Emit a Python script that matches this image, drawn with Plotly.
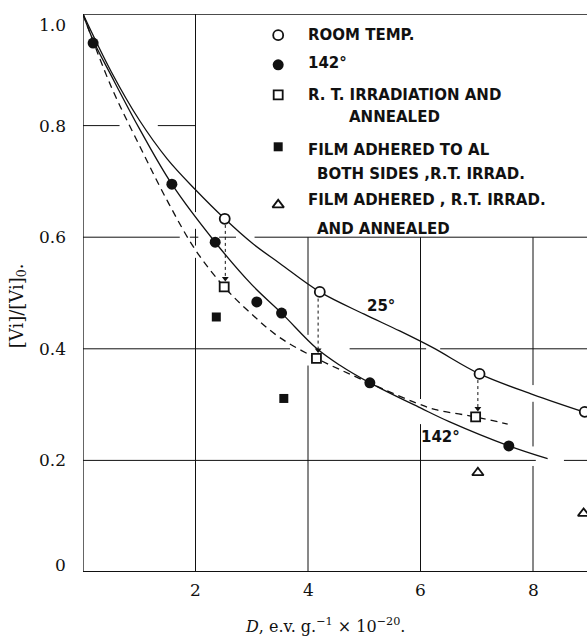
import plotly.graph_objects as go

# ---------------- data ----------------
room_x = [2.52, 4.21, 7.05, 8.92]
room_y = [0.633, 0.502, 0.355, 0.287]

t142_x = [0.18, 1.58, 2.35, 3.09, 3.53, 5.10, 7.57]
t142_y = [0.948, 0.695, 0.591, 0.484, 0.464, 0.339, 0.226]

annealed_x = [2.51, 4.15, 6.98]
annealed_y = [0.511, 0.383, 0.278]

film_al_x = [2.37, 3.57]
film_al_y = [0.457, 0.311]

film_ann_x = [7.02, 8.90]
film_ann_y = [0.178, 0.105]

curve25_x = [0, 0.5, 1.0, 1.5, 2.0, 2.52, 3.0, 3.5, 4.21, 5.0, 5.63, 6.22, 7.05, 8.0, 8.96]
curve25_y = [1.0, 0.897, 0.81, 0.74, 0.685, 0.633, 0.59, 0.553, 0.502, 0.462, 0.432, 0.402, 0.355, 0.318, 0.285]

curve142_x = [0, 0.18, 0.5, 1.0, 1.58, 2.35, 3.0, 3.53, 4.15, 4.56, 5.10, 6.0, 6.52, 7.57, 8.26]
curve142_y = [1.0, 0.953, 0.89, 0.795, 0.695, 0.591, 0.515, 0.464, 0.401, 0.371, 0.339, 0.294, 0.269, 0.226, 0.203]

dashed_x = [0, 0.5, 1.0, 1.5, 2.0, 2.51, 3.0, 3.5, 4.15, 4.8, 5.4, 5.92, 6.27, 6.98, 7.55]
dashed_y = [1.0, 0.87, 0.765, 0.665, 0.577, 0.511, 0.462, 0.42, 0.383, 0.352, 0.325, 0.303, 0.291, 0.278, 0.265]

arrow_x = [2.53, 4.18, 7.02]
arrow_top = [0.622, 0.49, 0.344]
arrow_bottom = [0.526, 0.398, 0.293]

y_tick_vals = [0, 0.2, 0.4, 0.6, 0.8, 1.0]
y_tick_text = ["0", "0.2", "0.4", "0.6", "0.8", "1.0"]
x_tick_vals = [2, 4, 6, 8]
x_tick_text = ["2", "4", "6", "8"]

legend_lines = ["ROOM TEMP.", "142°", "R. T. IRRADIATION AND", "ANNEALED",
                "FILM ADHERED TO AL", "BOTH SIDES ,R.T. IRRAD.",
                "FILM ADHERED , R.T. IRRAD.", "AND ANNEALED"]
curve_labels = ["25°", "142°"]

x_title = "<i>D</i>, e.v. g.<sup>−1</sup> × 10<sup>−20</sup>."
y_title = "[Vi]/[Vi]<sub>0</sub>."

# ---------------- figure ----------------
XMAX = 8.96
INK = "#111111"
fig = go.Figure()


def seg(x0, y0, x1, y1, w=1.0):
    fig.add_shape(type="line", xref="x", yref="y", x0=x0, y0=y0, x1=x1, y1=y1,
                  line=dict(color=INK, width=w), layer="below")


# frame
seg(0, 0, 0, 1.0, 1.3)
seg(0, 0, XMAX, 0, 1.8)
seg(0, 1.0, XMAX, 1.0, 1.3)
# grid (broken where curves cross, hidden under legend)
for a, b in [(0, 0.563), (0.585, 0.615), (0.645, 1.0)]:
    seg(2, a, 2, b)
for a, b in [(0, 0.37), (0.425, 0.6)]:
    seg(4, a, 4, b)
for a, b in [(0, 0.265), (0.31, 0.6)]:
    seg(6, a, 6, b)
for a, b in [(0, 0.19), (0.225, 0.305), (0.335, 0.6)]:
    seg(8, a, 8, b)
for a, b in [(0, 8.05), (8.55, XMAX)]:
    seg(a, 0.2, b, 0.2)
for a, b in [(0, 3.68), (4.74, 6.1), (6.35, XMAX)]:
    seg(a, 0.4, b, 0.4)
for a, b in [(0, 1.72), (1.9, 2.05), (2.42, 2.72), (3.05, XMAX)]:
    seg(a, 0.6, b, 0.6)
for a, b in [(0, 0.65), (1.33, 2.0)]:
    seg(a, 0.8, b, 0.8)

# curves
fig.add_trace(go.Scatter(x=dashed_x, y=dashed_y, mode="lines",
                         line=dict(color=INK, width=1.3, dash="7px,5px", shape="spline", smoothing=1)))
fig.add_trace(go.Scatter(x=curve25_x, y=curve25_y, mode="lines",
                         line=dict(color=INK, width=1.3, shape="spline", smoothing=1)))
fig.add_trace(go.Scatter(x=curve142_x, y=curve142_y, mode="lines",
                         line=dict(color=INK, width=1.3, shape="spline", smoothing=1)))

# vertical dashed arrows
for ax_, t, b in zip(arrow_x, arrow_top, arrow_bottom):
    fig.add_trace(go.Scatter(x=[ax_, ax_], y=[t, b], mode="lines",
                             line=dict(color=INK, width=1, dash="3px,3px")))
fig.add_trace(go.Scatter(x=arrow_x, y=arrow_bottom, mode="markers",
                         marker=dict(symbol="triangle-down", size=6, color=INK)))

# markers
OPEN = dict(color="white", line=dict(color=INK, width=1.8))
fig.add_trace(go.Scatter(x=room_x, y=room_y, mode="markers", cliponaxis=False,
                         marker=dict(symbol="circle", size=10, **OPEN)))
fig.add_trace(go.Scatter(x=t142_x, y=t142_y, mode="markers", cliponaxis=False,
                         marker=dict(symbol="circle", size=11, color=INK)))
fig.add_trace(go.Scatter(x=annealed_x, y=annealed_y, mode="markers", cliponaxis=False,
                         marker=dict(symbol="square", size=9, **OPEN)))
fig.add_trace(go.Scatter(x=film_al_x, y=film_al_y, mode="markers", cliponaxis=False,
                         marker=dict(symbol="square", size=9, color=INK)))
fig.add_trace(go.Scatter(x=film_ann_x, y=film_ann_y, mode="markers", cliponaxis=False,
                         marker=dict(symbol="triangle-up", size=10, **OPEN)))

# legend (hand drawn like the original)
LX = 3.47
TX = 3.96
fig.add_trace(go.Scatter(x=[LX], y=[0.962], mode="markers", marker=dict(symbol="circle", size=10, **OPEN)))
fig.add_trace(go.Scatter(x=[LX], y=[0.909], mode="markers", marker=dict(symbol="circle", size=11, color=INK)))
fig.add_trace(go.Scatter(x=[LX], y=[0.855], mode="markers", marker=dict(symbol="square", size=9, **OPEN)))
fig.add_trace(go.Scatter(x=[LX], y=[0.762], mode="markers", marker=dict(symbol="square", size=9, color=INK)))
fig.add_trace(go.Scatter(x=[LX], y=[0.658], mode="markers", marker=dict(symbol="triangle-up", size=10, **OPEN)))

LFONT = dict(family="DejaVu Sans", size=15, color=INK, weight="bold")
leg_pos = [(TX, 0.962), (TX, 0.912), (TX, 0.855), (TX + 0.73, 0.815),
           (TX, 0.757), (TX + 0.16, 0.714), (TX, 0.666), (TX + 0.16, 0.615)]
for txt, (lx, ly) in zip(legend_lines, leg_pos):
    fig.add_annotation(x=lx, y=ly, xref="x", yref="y", text=txt, showarrow=False,
                       xanchor="left", yanchor="middle", font=LFONT)

# curve labels
for txt, (lx, ly) in zip(curve_labels, [(5.30, 0.477), (6.36, 0.242)]):
    fig.add_annotation(x=lx, y=ly, xref="x", yref="y", text=txt, showarrow=False,
                       xanchor="center", yanchor="middle", font=LFONT)

# tick labels
TFONT = dict(family="DejaVu Serif", size=17, color=INK)
for v, t in zip(y_tick_vals, y_tick_text):
    ys = -11 if v == 1.0 else (7 if v == 0 else 0)
    fig.add_annotation(x=0, y=v, xref="x", yref="y", text=t, showarrow=False,
                       xanchor="right", yanchor="middle", xshift=-15, yshift=ys, font=TFONT)
for v, t in zip(x_tick_vals, x_tick_text):
    fig.add_annotation(x=v, y=0, xref="x", yref="y", text=t, showarrow=False,
                       xanchor="center", yanchor="middle", yshift=-18, font=TFONT)

# axis titles
fig.add_annotation(x=0.48, y=-0.095, xref="paper", yref="paper", text=x_title,
                   showarrow=False, xanchor="center", yanchor="middle",
                   font=dict(family="DejaVu Serif", size=16, color=INK))
fig.add_annotation(x=-0.129, y=0.478, xref="paper", yref="paper", text=y_title,
                   showarrow=False, textangle=-90, xanchor="center", yanchor="middle",
                   font=dict(family="DejaVu Serif", size=18, color=INK))

fig.update_layout(
    width=587, height=637,
    margin=dict(l=83, r=0, t=14, b=65),
    paper_bgcolor="white", plot_bgcolor="white",
    showlegend=False,
    xaxis=dict(range=[0, XMAX], visible=False, fixedrange=True),
    yaxis=dict(range=[0, 1.0], visible=False, fixedrange=True),
)

fig.write_html("out.html")
